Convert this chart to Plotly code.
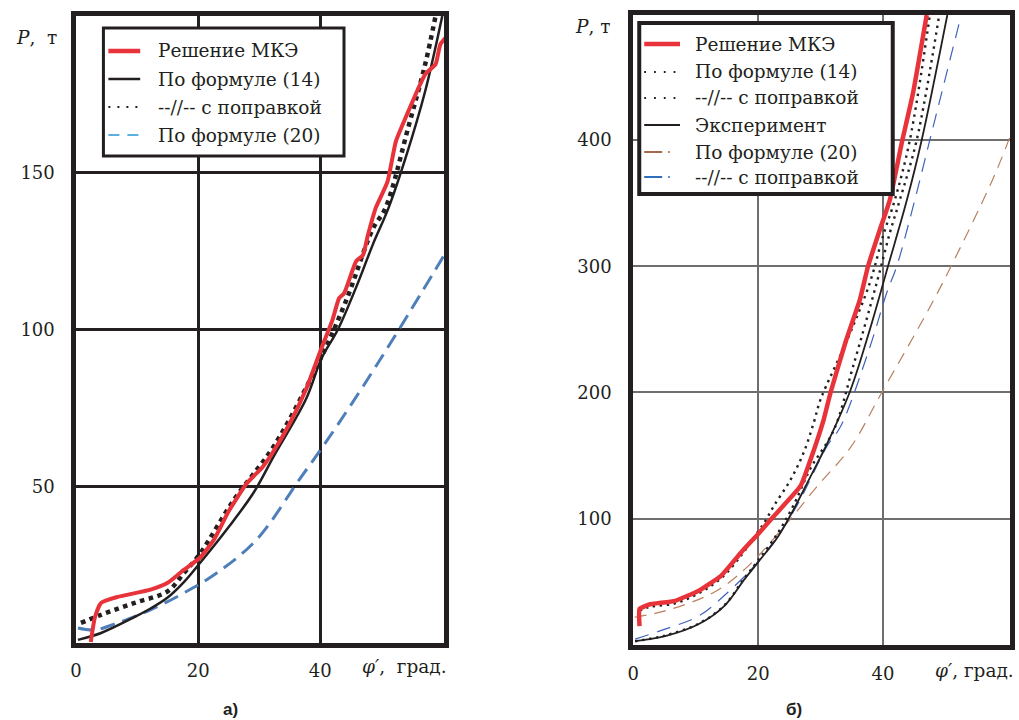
import plotly.graph_objects as go

# ---------------- Panel а) ----------------
fem_a_x = [2.4, 3.1, 4.1, 6.8, 12.2, 15, 17.7, 20.3, 22.6, 25, 28, 30.5, 32.3, 35, 37.7, 40.2, 42, 43.1, 43.9, 45.9, 47, 47.8, 49.1, 51, 52.4, 54, 57.2, 58.9, 59.7, 61]
fem_a_y = [0.3, 8.3, 12.8, 14.7, 17, 19.2, 23.4, 27.2, 33, 42, 51, 56, 61, 70, 81, 94, 103, 110, 111.5, 121.8, 123.7, 130, 138.8, 147, 160, 167.6, 181.4, 184.6, 191, 194]

f14_a_x = [0.3, 4.1, 9.6, 12.2, 15, 17.7, 20.3, 25, 29.1, 32.4, 37.7, 40.2, 42.9, 46, 48.6, 51.2, 54, 57.2, 60]
f14_a_y = [1, 3.2, 8.3, 11, 14.5, 19.5, 25.5, 37, 48, 59.6, 77.9, 90.7, 100, 114, 127, 138.8, 154.8, 176, 200]

corr_a_x = [0.8, 4.1, 9.6, 15, 17.7, 20.3, 25.9, 32.4, 39.8, 44.2, 48.6, 50.7, 54.5, 57.2, 58.9]
corr_a_y = [6.4, 9, 12.8, 16.5, 22.4, 28.5, 45.8, 62.8, 89.7, 109, 132, 138.8, 165, 184.6, 200]

f20_a_x = [0.3, 3.1, 6.8, 12.2, 17.7, 23.1, 29.6, 36.6, 40.2, 46.4, 52.9, 60.8]
f20_a_y = [4.8, 4.2, 6.4, 10.6, 16, 22.4, 33, 52.2, 62, 80, 100, 125.3]

# ---------------- Panel б) ----------------
fem_b_x = [1, 1, 2.5, 6.7, 10.5, 14.1, 17.3, 20, 22.5, 26.8, 28.4, 30.5, 31.6, 34, 36.3, 37.6, 39.5, 41.1, 43, 44.8, 47]
fem_b_y = [15, 28.5, 32, 35, 43, 55, 73.5, 88, 102, 126, 147, 178.6, 200, 240, 273.5, 300, 329, 352.6, 397.6, 437, 499]

f14_b_x = [1, 2.5, 6.7, 10.5, 14.1, 17.3, 20, 21, 22.5, 25.2, 27.3, 28.9, 30, 34.3, 37.9, 40, 41.9, 44.3, 47.5]
f14_b_y = [27, 30, 33, 41, 53, 71, 90, 97, 110, 131, 152.5, 176, 194.5, 242, 287, 324, 352.6, 400, 499]

corr_b_x = [0.3, 5.1, 10.5, 14.6, 17.8, 20, 23.2, 25.7, 28.4, 32.1, 35.2, 39, 41.1, 42.7, 45.4, 49]
corr_b_y = [3, 7.5, 17, 31.5, 53, 67, 89, 111, 140, 170, 220.5, 287, 326.5, 352.6, 400, 499]

exp_b_x = [0.3, 5.1, 10.5, 14.6, 17.8, 20, 23.2, 25.7, 28.4, 31.1, 34.8, 37.9, 40.8, 43.8, 46.2, 50.3]
exp_b_y = [3, 7, 16.6, 31, 52, 65.6, 86, 107.5, 133.6, 160, 202, 250, 300, 352, 400, 499]

f20_b_x = [0.2, 5.1, 13, 18.4, 25.2, 29.5, 34.8, 39.8, 47, 50.6, 57.5, 60.3]
f20_b_y = [22, 27, 42, 62.5, 100, 126, 156.5, 200, 263, 297, 368, 402]

f20c_b_x = [0.3, 5.1, 10.5, 15.2, 20, 25.7, 31.1, 33.2, 37.9, 40.6, 42.2, 45.1, 47.5, 52.2]
f20c_b_y = [4.7, 12.6, 23, 42, 66, 106, 158, 173, 236, 279, 300, 352.6, 400, 492.5]

names_a = ["Решение МКЭ", "По формуле (14)", "--//-- с поправкой", "По формуле (20)"]
names_b = ["Решение МКЭ", "По формуле (14)", "--//-- с поправкой", "Эксперимент",
           "По формуле (20)", "--//-- с поправкой"]

RED = "#e8333a"
BLACK = "#231f20"
SANS = "Liberation Sans, Arial, sans-serif"
SERIF = "DejaVu Serif, Liberation Serif, serif"

# line styles (shared between plot and legend samples)
st_a = [dict(color=RED, width=4),
        dict(color=BLACK, width=2.5),
        dict(color=BLACK, width=4.5, dash="4.5px,4.5px"),
        dict(color="#4f7fba", width=3, dash="15px,8px")]
leg_a = [dict(color=RED, width=4.5),
         dict(color=BLACK, width=2.5),
         dict(color=BLACK, width=2, dash="2px,7px"),
         dict(color="#5aaee0", width=2, dash="11px,8px")]
st_b = [dict(color=RED, width=4.5),
        dict(color=BLACK, width=2.4, dash="2.4px,4.6px"),
        dict(color=BLACK, width=2.4, dash="2.4px,4.6px"),
        dict(color=BLACK, width=1.8),
        dict(color="#b8805f", width=1.2, dash="12px,8px"),
        dict(color="#3f63b8", width=1.2, dash="14px,9px")]
leg_b = [dict(color=RED, width=4.5),
         dict(color=BLACK, width=1.8, dash="1.8px,8px"),
         dict(color=BLACK, width=1.8, dash="1.8px,8px"),
         dict(color=BLACK, width=2),
         dict(color="#a8694a", width=2, dash="18px,6px,1.5px,40px"),
         dict(color="#2f6fba", width=2, dash="18px,6px,1.5px,40px")]

fig = go.Figure()

def add(x, y, name, st, xa, ya, smoothing=1.0):
    fig.add_trace(go.Scatter(x=x, y=y, name=name, mode="lines", showlegend=False,
                             line=dict(shape="spline", smoothing=smoothing, **st),
                             xaxis=xa, yaxis=ya))

# panel а)
add(f20_a_x, f20_a_y, names_a[3], st_a[3], "x", "y")
add(f14_a_x, f14_a_y, names_a[1], st_a[1], "x", "y")
add(corr_a_x, corr_a_y, names_a[2], st_a[2], "x", "y")
add(fem_a_x, fem_a_y, names_a[0], st_a[0], "x", "y", 0.5)
# panel б)
add(f20_b_x, f20_b_y, names_b[4], st_b[4], "x2", "y2")
add(f20c_b_x, f20c_b_y, names_b[5], st_b[5], "x2", "y2")
add(f14_b_x, f14_b_y, names_b[1], st_b[1], "x2", "y2")
add(corr_b_x, corr_b_y, names_b[2], st_b[2], "x2", "y2")
add(exp_b_x, exp_b_y, names_b[3], st_b[3], "x2", "y2")
add(fem_b_x, fem_b_y, names_b[0], st_b[0], "x2", "y2", 0.4)

W, H = 1019, 720
def px_x(p):
    return p / W
def px_y(p):
    return 1 - p / H

common_axis = dict(showline=True, mirror=True, linecolor=BLACK, ticks="",
                   zeroline=False, fixedrange=True,
                   tickfont=dict(family=SERIF, size=18, color=BLACK))

fig.update_layout(
    width=W, height=H,
    margin=dict(l=0, r=0, t=0, b=0),
    paper_bgcolor="white", plot_bgcolor="white",
    showlegend=False,
    xaxis=dict(domain=[px_x(70.5), px_x(441)], range=[0, 60.35], tickvals=[0, 20, 40],
               showgrid=True, gridcolor=BLACK, gridwidth=3, linewidth=4.5,
               anchor="y", ticklabelstandoff=8, **common_axis),
    yaxis=dict(domain=[px_y(643), px_y(16)], range=[0, 200], tickvals=[50, 100, 150],
               showgrid=True, gridcolor=BLACK, gridwidth=3, linewidth=4.5,
               anchor="x", ticklabelstandoff=13, **common_axis),
    xaxis2=dict(domain=[px_x(631), px_x(1010)], range=[0, 60.35], tickvals=[0, 20, 40],
                showgrid=True, gridcolor="#6e6e6e", gridwidth=1.5, linewidth=5,
                anchor="y2", ticklabelstandoff=8, **common_axis),
    yaxis2=dict(domain=[px_y(645), px_y(15)], range=[0, 499], tickvals=[100, 200, 300, 400],
                showgrid=True, gridcolor="#6e6e6e", gridwidth=1.5, linewidth=5,
                anchor="x2", ticklabelstandoff=13, **common_axis),
)

shapes = []
annotations = []

def legend_box(x0, y0, x1, y1, bw):
    shapes.append(dict(type="rect", xref="paper", yref="paper",
                       x0=px_x(x0), x1=px_x(x1), y0=px_y(y1), y1=px_y(y0),
                       fillcolor="white", line=dict(color=BLACK, width=bw), layer="above"))

def legend_rows(names, styles, rows_y, sx0, sx1, tx):
    for name, st, ry in zip(names, styles, rows_y):
        shapes.append(dict(type="line", xref="paper", yref="paper",
                           x0=px_x(sx0), x1=px_x(sx1), y0=px_y(ry), y1=px_y(ry),
                           line=st, layer="above"))
        annotations.append(dict(x=px_x(tx), y=px_y(ry), text=name, showarrow=False,
                                xanchor="left", yanchor="middle",
                                font=dict(family=SERIF, size=18.5, color=BLACK)))

legend_box(98, 28, 340, 156, 3)
legend_rows(names_a, leg_a, [51, 79, 107, 135], 103, 135, 151)
legend_box(637, 23, 892, 194, 4)
legend_rows(names_b, leg_b, [44, 72, 98, 125, 152, 177], 642, 678, 691)

title_font = dict(family=SERIF, size=18.5, color=BLACK)
annotations += [
    dict(x=px_x(8), y=px_y(37), text="<i>P</i>,  т", showarrow=False,
         xanchor="left", yanchor="middle", font=title_font),
    dict(x=px_x(570), y=px_y(27), text="<i>P</i>, т", showarrow=False,
         xanchor="left", yanchor="middle", font=title_font),
    dict(x=px_x(356), y=px_y(666), text="<i>φ′</i>,  град.", showarrow=False,
         xanchor="left", yanchor="middle", font=title_font),
    dict(x=px_x(932), y=px_y(670), text="<i>φ′</i>, град.", showarrow=False,
         xanchor="left", yanchor="middle", font=title_font),
    dict(x=px_x(226), y=px_y(709), text="<b>а)</b>", showarrow=False,
         xanchor="center", yanchor="middle",
         font=dict(family=SANS, size=17, color=BLACK)),
    dict(x=px_x(793), y=px_y(709), text="<b>б)</b>", showarrow=False,
         xanchor="center", yanchor="middle",
         font=dict(family=SANS, size=17, color=BLACK)),
]
for a in annotations:
    a["xref"] = "paper"
    a["yref"] = "paper"
fig.update_layout(annotations=annotations, shapes=shapes)

fig.write_html(
    "out.html",
    config={"displayModeBar": False},
    post_script="document.body.style.margin='0';document.body.style.overflow='hidden';",
)
